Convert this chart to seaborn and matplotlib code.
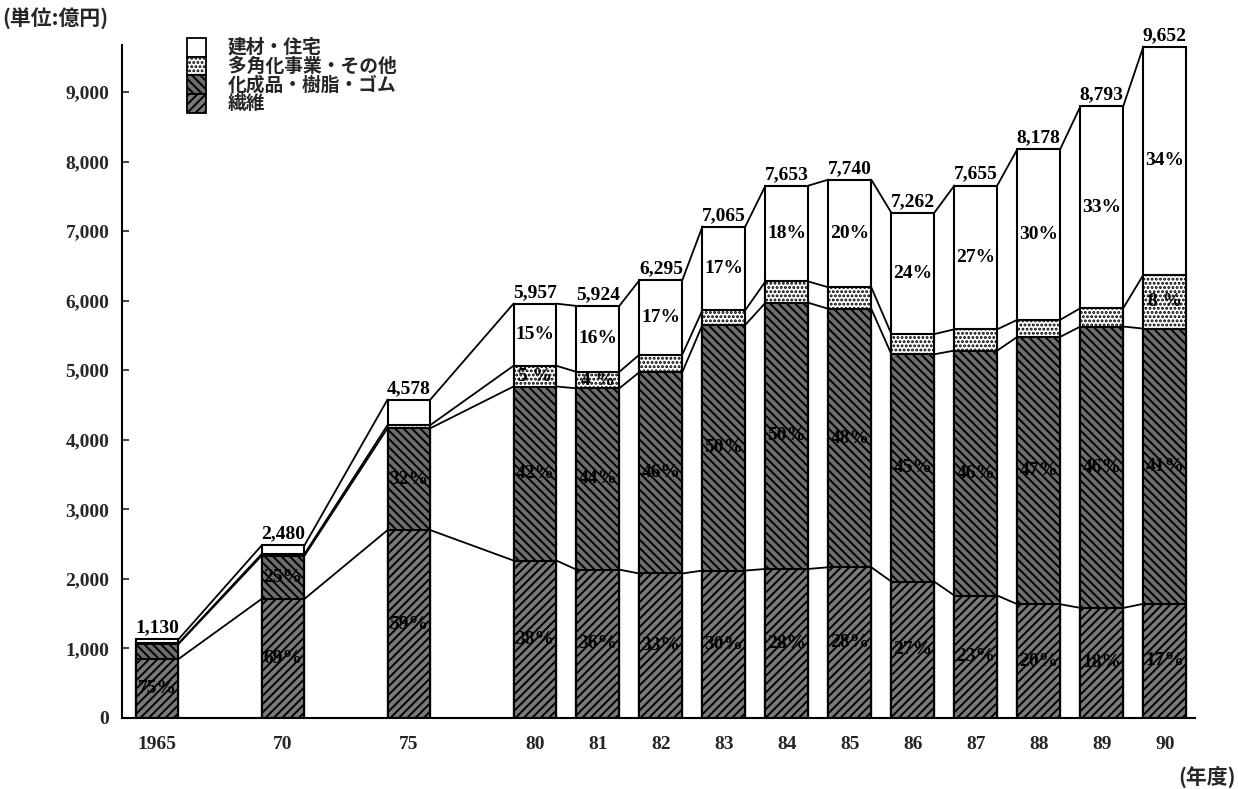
import matplotlib
matplotlib.use("Agg")
import matplotlib.pyplot as plt
from matplotlib.patches import Rectangle
import numpy as np
import pandas as pd
import seaborn as sns

# ---- data -------------------------------------------------------------
years = [1965, 1970, 1975, 1980, 1981, 1982, 1983, 1984, 1985, 1986, 1987, 1988, 1989, 1990]
year_labels = ["1965", "70", "75", "80", "81", "82", "83", "84", "85", "86", "87", "88", "89", "90"]
totals = [1130, 2480, 4578, 5957, 5924, 6295, 7065, 7653, 7740, 7262, 7655, 8178, 8793, 9652]

# share of each business segment in sales (%)
fiber_pct = [75, 69, 59, 38, 36, 33, 30, 28, 28, 27, 23, 20, 18, 17]
chem_pct = [19, 25, 32, 42, 44, 46, 50, 50, 48, 45, 46, 47, 46, 41]
divers_pct = [1, 1, 1, 5, 4, 4, 3, 4, 4, 4, 4, 3, 3, 8]
build_pct = [5, 5, 8, 15, 16, 17, 17, 18, 20, 24, 27, 30, 33, 34]

segment_names = ["建材・住宅", "多角化事業・その他", "化成品・樹脂・ゴム", "繊維"]
yticks = [0, 1000, 2000, 3000, 4000, 5000, 6000, 7000, 8000, 9000]

# which years carry a printed share
chem_labeled = [y != 1965 for y in years]
divers_labeled = [y in (1980, 1981, 1990) for y in years]
build_labeled = [y >= 1980 for y in years]

# ---- style ------------------------------------------------------------
sns.set_theme(style="white")
plt.rcParams["font.family"] = ["Noto Sans CJK JP", "DejaVu Sans"]
plt.rcParams["hatch.linewidth"] = 1.4
NUM = ["Liberation Serif", "DejaVu Serif"]
JP = ["Noto Sans CJK JP", "DejaVu Sans"]

# fill styles per segment: (facecolor, hatch)
STYLE = {
    "build": ("white", ""),
    "divers": ("white", "...."),
    "chem": ("#6e6e6e", "\\\\\\\\"),
    "fiber": ("#7a7a7a", "////"),
}


def x_pos(year):
    # five-year steps up to 1980 are compressed, then one unit per year
    return 2.0 * (year - 1965) / 5 if year <= 1980 else 6.0 + (year - 1980)


pos = np.array([x_pos(y) for y in years])
tot = np.array(totals, dtype=float)
fiber = tot * np.array(fiber_pct) / 100
chem = tot * np.array(chem_pct) / 100
divers = tot * np.array(divers_pct) / 100
build = tot * np.array(build_pct) / 100

fiber_top = fiber
chem_top = fiber_top + chem
divers_top = chem_top + divers
build_top = divers_top + build

W = 0.68

fig = plt.figure(figsize=(12.38, 7.89), dpi=100)
ax = fig.add_axes([122 / 1238, 71 / 789, (1195 - 122) / 1238, (718 - 45) / 789])

layers = [(build_top, "build"), (divers_top, "divers"), (chem_top, "chem"), (fiber_top, "fiber")]
for top, key in layers:
    face, hatch = STYLE[key]
    df = pd.DataFrame({"pos": pos, "top": top})
    n0 = len(ax.patches)
    sns.barplot(data=df, x="pos", y="top", native_scale=True, width=W,
                color=face, edgecolor="black", linewidth=1.5,
                errorbar=None, ax=ax)
    for p in ax.patches[n0:]:
        p.set_facecolor(face)
        p.set_edgecolor("black")
        p.set_hatch(hatch)

# lines joining the segment boundaries of neighbouring bars
for b in (fiber_top, chem_top, divers_top, build_top):
    for i in range(len(years) - 1):
        ax.plot([pos[i] + W / 2, pos[i + 1] - W / 2], [b[i], b[i + 1]],
                color="black", lw=1.3, zorder=3)

# totals above bars
for x, t in zip(pos, totals):
    ax.text(x, t + 40, f"{t:,}", ha="center", va="bottom",
            fontsize=14, fontweight="bold", family=NUM, color="black")

# share labels inside segments
def put(vals, bottoms, pcts, flags, suffix="%"):
    for x, v, b, p, f in zip(pos, vals, bottoms, pcts, flags):
        if f:
            ax.text(x, b + v / 2, f"{p}{suffix}", ha="center", va="center",
                    fontsize=14, fontweight="bold", family=NUM, color="black", zorder=4)

put(fiber, np.zeros_like(fiber), fiber_pct, [True] * len(years))
put(chem, fiber_top, chem_pct, chem_labeled)
put(divers, chem_top, divers_pct, divers_labeled, suffix=" %")
put(build, divers_top, build_pct, build_labeled)

# axes
ax.set_xlim(-0.556, 16.48)
ax.set_ylim(0, 9675)
ax.set_xlabel("")
ax.set_ylabel("")
ax.set_xticks(pos)
ax.set_xticklabels(year_labels, fontsize=14, fontweight="bold", family=NUM)
ax.set_yticks(yticks)
ax.set_yticklabels([f"{v:,}" for v in yticks], fontsize=14, fontweight="bold", family=NUM)
ax.tick_params(axis="x", length=0, pad=13)
ax.tick_params(axis="y", direction="in", length=5, width=1.2, left=True, pad=9)
for s in ("top", "right"):
    ax.spines[s].set_visible(False)
for s in ("left", "bottom"):
    ax.spines[s].set_color("black")
    ax.spines[s].set_linewidth(1.5)

# legend: stacked swatches with labels, top segment first
sw_x, sw_w, sw_h, top_y = 187, 19, 18.7, 38
order = ["build", "divers", "chem", "fiber"]
for i, (key, name) in enumerate(zip(order, segment_names)):
    face, hatch = STYLE[key]
    y0 = top_y + i * sw_h
    fig.add_artist(Rectangle((sw_x / 1238, 1 - (y0 + sw_h) / 789), sw_w / 1238, sw_h / 789,
                             transform=fig.transFigure, facecolor=face, edgecolor="black",
                             hatch=hatch, linewidth=1.3))
    fig.text(228 / 1238, 1 - (y0 + sw_h / 2) / 789, name, ha="left", va="center",
             fontsize=13.5, fontweight="bold", family=JP)

fig.text(2 / 1238, 1 - 7 / 789, "(単位:億円)", ha="left", va="top",
         fontsize=15, fontweight="bold", family=JP)
fig.text(1236 / 1238, 0, "(年度)", ha="right", va="bottom",
         fontsize=15, fontweight="bold", family=JP)

fig.savefig("out.png", dpi=100)
